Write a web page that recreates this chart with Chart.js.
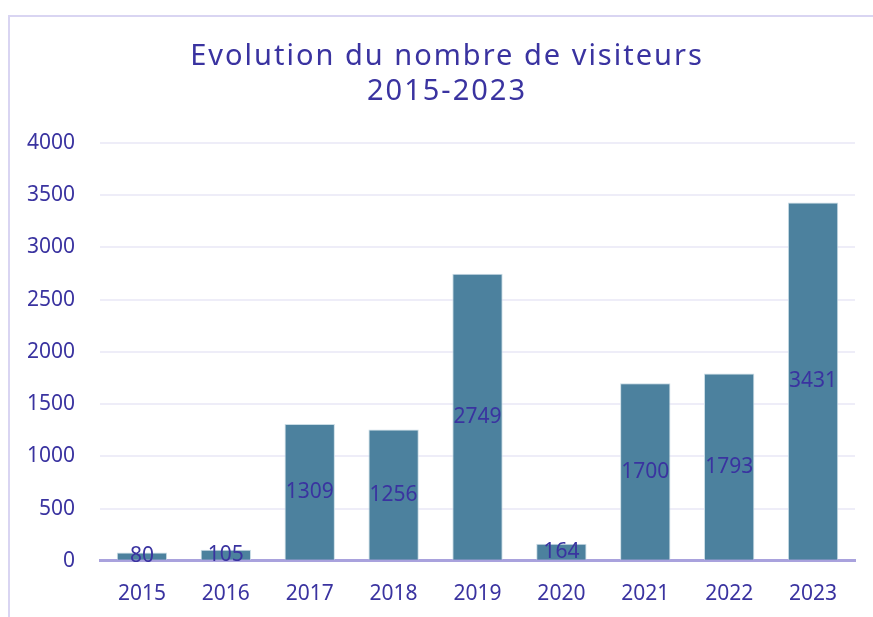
<!DOCTYPE html>
<html><head><meta charset="utf-8">
<script src="https://cdn.jsdelivr.net/npm/chart.js@4"></script>
<style>
html,body{margin:0;padding:0;background:#fff;width:873px;height:617px;overflow:hidden}
#frame{position:absolute;left:8px;top:15px;width:1000px;height:800px;border-left:2px solid #D9D5F2;border-top:2px solid #D9D5F2}
#wrap{position:absolute;left:0;top:0;width:873px;height:617px}
</style></head><body>
<div id="frame"></div>
<div id="wrap"><canvas id="c" width="873" height="617"></canvas></div>
<script>
const categories = ["2015","2016","2017","2018","2019","2020","2021","2022","2023"];
const visitors = [80,105,1309,1256,2749,164,1700,1793,3431];
const titleLines = ["Evolution du nombre de visiteurs","2015-2023"];
const textColor = "#3A33A0";

const labelPlugin = {
  id:'centerLabels',
  afterDatasetsDraw(chart){
    const ctx = chart.ctx;
    const meta = chart.getDatasetMeta(0);
    ctx.save();
    ctx.font = '21px "Noto Sans"';
    ctx.fillStyle = textColor;
    ctx.textAlign = 'center';
    ctx.textBaseline = 'middle';
    meta.data.forEach((bar,i)=>{
      const y = (bar.y + bar.base)/2;
      ctx.fillText(String(chart.data.datasets[0].data[i]), bar.x, y);
    });
    ctx.restore();
  }
};
const titlePlugin = {
  id:'offsetTitle',
  afterDraw(chart){
    const ctx = chart.ctx;
    ctx.save();
    ctx.font = '29px "Noto Sans"';
    ctx.letterSpacing = '2px';
    ctx.fillStyle = textColor;
    ctx.textAlign = 'center';
    ctx.textBaseline = 'middle';
    titleLines.forEach((t,i)=>ctx.fillText(t, 447, 57 + i*35));
    ctx.restore();
  }
};

new Chart(document.getElementById('c'),{
  type:'bar',
  data:{labels:categories,datasets:[{data:visitors,backgroundColor:'#4C819E',borderColor:'#C9DCE5',borderWidth:1,categoryPercentage:1,barPercentage:0.6}]},
  options:{
    responsive:false,animation:false,
    layout:{padding:{left:0,right:18,top:143,bottom:0}},
    plugins:{legend:{display:false},tooltip:{enabled:false},title:{display:false}},
    scales:{
      x:{afterFit(s){s.height-=3;},grid:{display:false},border:{display:true,color:'#A9A2DD',width:3},
         ticks:{color:textColor,font:{family:'Noto Sans',size:21},padding:13}},
      y:{min:0,max:4000,afterFit(s){s.width=100;},
         grid:{color:'#EEEDF8',lineWidth:2,drawTicks:false},border:{display:false},
         ticks:{stepSize:500,color:textColor,font:{family:'Noto Sans',size:21},padding:25,callback:(v)=>String(v)}}
    }
  },
  plugins:[labelPlugin,titlePlugin]
});
</script></body></html>
